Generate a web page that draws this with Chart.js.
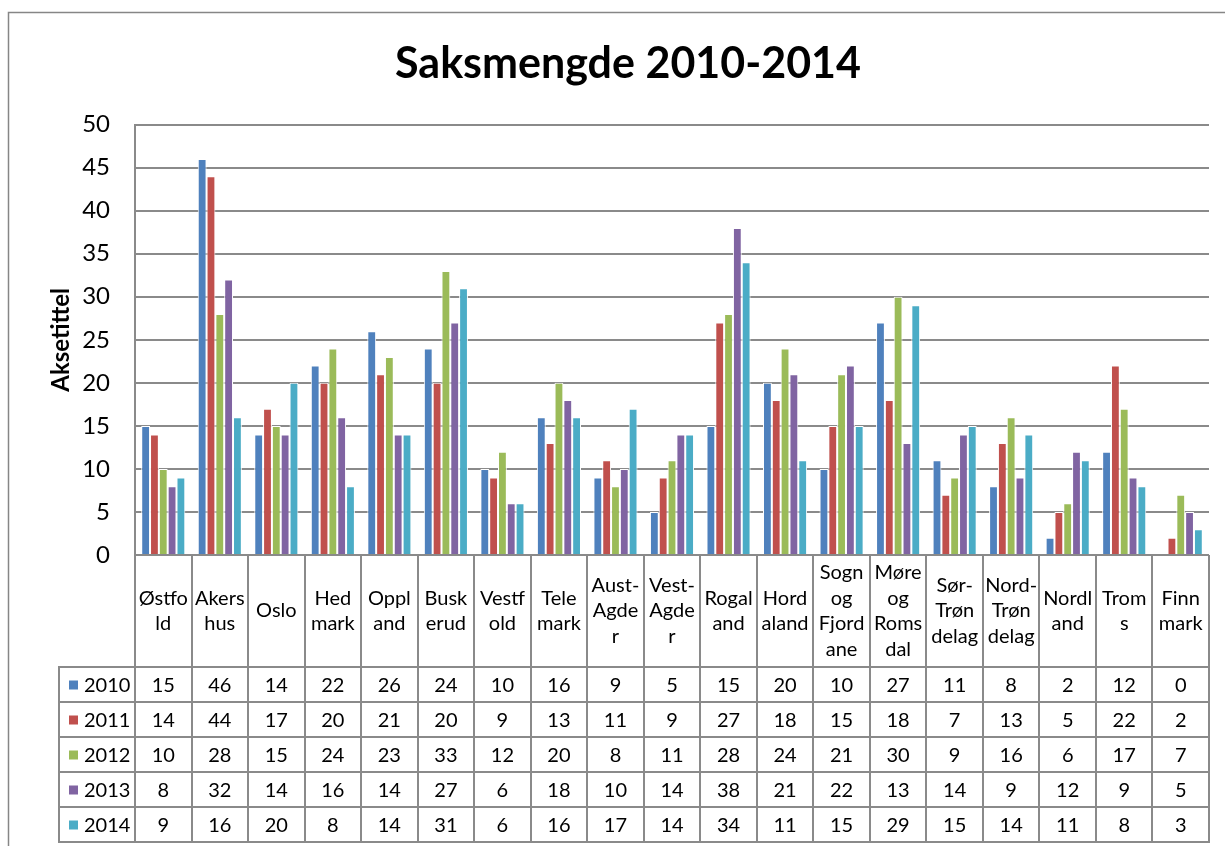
<!DOCTYPE html>
<html>
<head>
<meta charset="utf-8">
<script src="https://cdn.jsdelivr.net/npm/chart.js@4.4.0/dist/chart.umd.min.js"></script>
<style>
  html, body { margin: 0; padding: 0; background: #fff; }
  #wrap { width: 1225px; height: 846px; }
</style>
</head>
<body>
<div id="wrap"><canvas id="saksChart"></canvas></div>
<script>
// Fylker (tekst brutt slik som i Excel-tabellen)
const categories = [
  ['Østfo', 'ld'], ['Akers', 'hus'], ['Oslo'], ['Hed', 'mark'], ['Oppl', 'and'],
  ['Busk', 'erud'], ['Vestf', 'old'], ['Tele', 'mark'], ['Aust-', 'Agde', 'r'],
  ['Vest-', 'Agde', 'r'], ['Rogal', 'and'], ['Hord', 'aland'], ['Sogn', 'og', 'Fjord', 'ane'],
  ['Møre', 'og', 'Roms', 'dal'], ['Sør-', 'Trøn', 'delag'], ['Nord-', 'Trøn', 'delag'],
  ['Nordl', 'and'], ['Trom', 's'], ['Finn', 'mark']
];

const years = ['2010', '2011', '2012', '2013', '2014'];

// Saksmengde per år
const saker2010 = [15, 46, 14, 22, 26, 24, 10, 16, 9, 5, 15, 20, 10, 27, 11, 8, 2, 12, 0];
const saker2011 = [14, 44, 17, 20, 21, 20, 9, 13, 11, 9, 27, 18, 15, 18, 7, 13, 5, 22, 2];
const saker2012 = [10, 28, 15, 24, 23, 33, 12, 20, 8, 11, 28, 24, 21, 30, 9, 16, 6, 17, 7];
const saker2013 = [8, 32, 14, 16, 14, 27, 6, 18, 10, 14, 38, 21, 22, 13, 14, 9, 12, 9, 5];
const saker2014 = [9, 16, 20, 8, 14, 31, 6, 16, 17, 14, 34, 11, 15, 29, 15, 14, 11, 8, 3];

const yTicks = [0, 5, 10, 15, 20, 25, 30, 35, 40, 45, 50];

const seriesValues = [saker2010, saker2011, saker2012, saker2013, saker2014];
const seriesColors = ['#4F81BD', '#C0504D', '#9BBB59', '#8064A2', '#4BACC6'];

const fontFamily = 'Lato, "Liberation Sans", sans-serif';
const lineGrey = '#8a8a8a';

// Tegner ramme rundt diagrammet
const outerFrame = {
  id: 'outerFrame',
  beforeDraw(chart) {
    const ctx = chart.ctx;
    ctx.save();
    ctx.strokeStyle = '#868686';
    ctx.lineWidth = 1.5;
    ctx.strokeRect(8.5, 12.5, 1400, 1000);
    ctx.restore();
  }
};

// Datatabell under diagrammet (som i Excel)
const dataTable = {
  id: 'dataTable',
  afterDraw(chart) {
    const ctx = chart.ctx;
    const area = chart.chartArea;
    const xScale = chart.scales.x;
    const n = categories.length;
    const colW = (area.right - area.left) / n;
    const headBottom = area.bottom + 112;
    const rowH = 35;
    const tableLeft = 59;
    const tableBottom = headBottom + rowH * years.length;

    ctx.save();
    ctx.strokeStyle = lineGrey;
    ctx.lineWidth = 2;
    ctx.beginPath();
    for (let i = 0; i <= n; i++) {
      const x = Math.round(area.left + i * colW);
      ctx.moveTo(x, area.bottom);
      ctx.lineTo(x, tableBottom);
    }
    ctx.moveTo(tableLeft, headBottom);
    ctx.lineTo(tableLeft, tableBottom);
    for (let r = 0; r <= years.length; r++) {
      const y = headBottom + r * rowH;
      ctx.moveTo(tableLeft - 1, y);
      ctx.lineTo(area.right + 1, y);
    }
    ctx.stroke();

    ctx.fillStyle = '#000';
    ctx.font = '20px ' + fontFamily;
    ctx.textAlign = 'center';
    ctx.textBaseline = 'middle';

    // kategorier i topprad
    const lineH = 25.5;
    const headMid = (area.bottom + headBottom) / 2;
    categories.forEach((lines, i) => {
      const cx = xScale.getPixelForValue(i);
      const y0 = headMid - (lines.length - 1) * lineH / 2;
      lines.forEach((t, k) => ctx.fillText(t, cx, y0 + k * lineH));
    });

    // verdier og forklaring
    years.forEach((yr, r) => {
      const cy = headBottom + r * rowH + rowH / 2 + 1;
      ctx.fillStyle = seriesColors[r];
      ctx.fillRect(69, cy - 5, 9, 9);
      ctx.fillStyle = '#000';
      ctx.textAlign = 'left';
      ctx.fillText(yr, 84, cy);
      ctx.textAlign = 'center';
      seriesValues[r].forEach((v, i) => {
        ctx.fillText(String(v), xScale.getPixelForValue(i), cy);
      });
    });
    ctx.restore();
  }
};

const ctx = document.getElementById('saksChart').getContext('2d');
const saksChart = new Chart(ctx, {
  type: 'bar',
  data: {
    labels: categories,
    datasets: years.map((yr, i) => ({
      label: yr,
      data: seriesValues[i],
      backgroundColor: seriesColors[i],
      borderColor: '#ffffff',
      borderWidth: 1,
      categoryPercentage: 0.78,
      barPercentage: 1.0
    }))
  },
  options: {
    responsive: true,
    maintainAspectRatio: false,
    animation: false,
    layout: {
      padding: { left: 47, right: 16, top: 0, bottom: 291 }
    },
    plugins: {
      legend: { display: false },
      tooltip: { enabled: false },
      title: {
        display: true,
        text: 'Saksmengde 2010-2014',
        color: '#000',
        font: { family: fontFamily, size: 43, weight: 'bold' },
        padding: { top: 38, bottom: 35 }
      }
    },
    scales: {
      x: {
        display: false
      },
      y: {
        min: 0,
        max: 50,
        afterBuildTicks(scale) {
          scale.ticks = yTicks.map(v => ({ value: v }));
        },
        afterFit(scale) {
          scale.width = 88;
        },
        ticks: {
          color: '#000',
          font: { family: fontFamily, size: 24 },
          padding: 25
        },
        grid: {
          color: lineGrey,
          lineWidth: 2,
          drawTicks: false
        },
        border: { display: true, color: lineGrey, width: 2 },
        title: {
          display: true,
          text: 'Aksetittel',
          color: '#000',
          font: { family: fontFamily, size: 24, weight: 'bold' },
          padding: { top: 0, bottom: 0 }
        }
      }
    }
  },
  plugins: [outerFrame, dataTable]
});
</script>
</body>
</html>
